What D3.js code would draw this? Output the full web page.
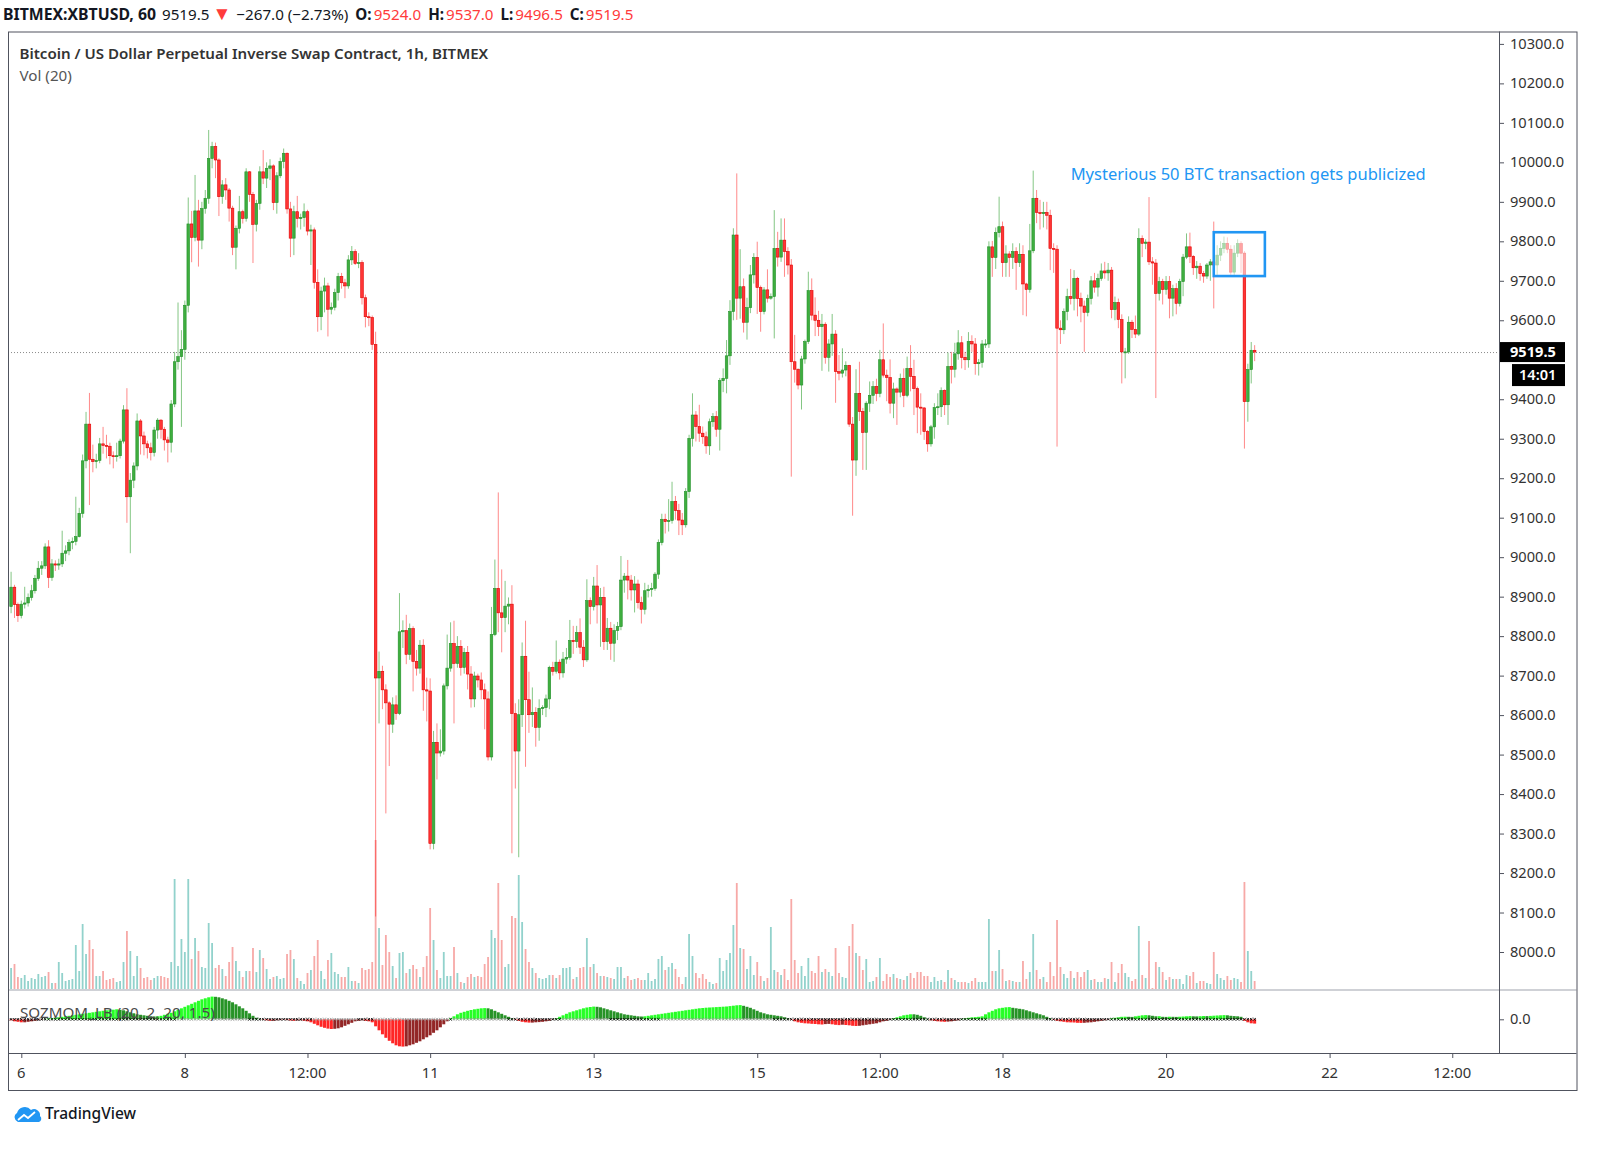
<!DOCTYPE html>
<html>
<head>
<meta charset="utf-8">
<title>XBTUSD 1h</title>
<script src="https://cdn.jsdelivr.net/npm/d3@7/dist/d3.min.js"></script>
<style>
  html, body { margin: 0; padding: 0; background: #ffffff; }
  svg { display: block; font-family: "Noto Sans", "Open Sans", sans-serif; }
</style>
</head>
<body>
<div id="chart"></div>
<script>
// hourly bars, BitMEX XBTUSD
const firstCandle = "2020-05-05T21:00:00Z";
const firstOpen = 8875;

const close = [
  8924, 8880, 8852, 8881, 8884, 8898, 8915, 8946, 8972, 8978,
  9026, 8949, 8983, 8980, 8983, 9010, 9016, 9037, 9040, 9052,
  9111, 9244, 9337, 9248, 9242, 9245, 9287, 9283, 9281, 9257,
  9255, 9257, 9294, 9373, 9153, 9195, 9231, 9345, 9307, 9287,
  9277, 9265, 9322, 9347, 9324, 9297, 9291, 9388, 9495, 9508,
  9526, 9638, 9844, 9810, 9877, 9803, 9883, 9909, 10010, 10040,
  10006, 9913, 9943, 9930, 9884, 9785, 9833, 9875, 9858, 9976,
  9919, 9843, 9896, 9976, 9960, 9985, 9991, 9898, 9966, 10002,
  10023, 9882, 9808, 9875, 9858, 9860, 9875, 9826, 9829, 9696,
  9609, 9674, 9687, 9628, 9633, 9670, 9711, 9695, 9687, 9753,
  9774, 9744, 9746, 9657, 9609, 9607, 9539, 8694, 8711, 8664,
  8631, 8577, 8626, 8604, 8811, 8814, 8754, 8819, 8736, 8719,
  8777, 8664, 8661, 8275, 8531, 8504, 8509, 8674, 8719, 8781,
  8731, 8774, 8721, 8759, 8704, 8641, 8699, 8689, 8664, 8641,
  8494, 8804, 8921, 8859, 8847, 8876, 8881, 8604, 8509, 8601,
  8749, 8639, 8601, 8607, 8569, 8617, 8619, 8641, 8721, 8711,
  8734, 8707, 8742, 8746, 8789, 8786, 8809, 8772, 8740, 8890,
  8875, 8927, 8879, 8898, 8786, 8820, 8782, 8814, 8824, 8942,
  8952, 8942, 8917, 8932, 8885, 8868, 8915, 8918, 8921, 8957,
  9037, 9096, 9090, 9093, 9141, 9118, 9094, 9082, 9166, 9301,
  9360, 9331, 9314, 9305, 9282, 9343, 9356, 9324, 9447, 9453,
  9510, 9622, 9816, 9656, 9685, 9595, 9632, 9715, 9759, 9683,
  9622, 9677, 9656, 9660, 9782, 9760, 9803, 9774, 9740, 9495,
  9476, 9436, 9502, 9546, 9675, 9613, 9600, 9584, 9590, 9506,
  9540, 9565, 9470, 9466, 9474, 9486, 9337, 9246, 9415, 9369,
  9316, 9390, 9410, 9432, 9415, 9500, 9461, 9455, 9390, 9426,
  9418, 9453, 9410, 9478, 9458, 9427, 9380, 9378, 9318, 9287,
  9330, 9379, 9381, 9422, 9386, 9483, 9476, 9515, 9543, 9506,
  9500, 9546, 9540, 9490, 9493, 9540, 9540, 9786, 9759, 9822,
  9837, 9746, 9768, 9759, 9774, 9746, 9767, 9692, 9678, 9776,
  9909, 9873, 9870, 9873, 9866, 9782, 9780, 9580, 9576, 9622,
  9660, 9655, 9706, 9655, 9636, 9620, 9655, 9700, 9684, 9706,
  9725, 9720, 9727, 9627, 9645, 9602, 9520, 9520, 9595, 9577,
  9565, 9807, 9795, 9798, 9748, 9745, 9668, 9698, 9678, 9698,
  9656, 9680, 9643, 9698, 9760, 9786, 9762, 9733, 9737, 9718,
  9712, 9740, 9748, 9740, 9765, 9782, 9795, 9780, 9722, 9770,
  9794, 9770, 9394, 9475, 9524, 9519.5
];

const high = [
  8963, 8930, 8885, 8890, 8925, 8908, 8930, 8955, 8990, 8990,
  9035, 9043, 8995, 8992, 8996, 9067, 9030, 9045, 9050, 9153,
  9125, 9260, 9368, 9416, 9285, 9262, 9302, 9330, 9310, 9290,
  9268, 9290, 9300, 9385, 9428, 9213, 9240, 9364, 9350, 9318,
  9295, 9290, 9330, 9352, 9350, 9330, 9305, 9398, 9520, 9645,
  9575, 9650, 9911, 9877, 9968, 9905, 9900, 9930, 10082, 10052,
  10050, 10010, 9955, 9960, 9935, 9890, 9840, 9915, 9880, 9985,
  9978, 9925, 9905, 9990, 10031, 10000, 10008, 9995, 9975, 10012,
  10035, 10025, 9900, 9890, 9915, 9870, 9896, 9880, 9842, 9835,
  9729, 9685, 9708, 9695, 9645, 9680, 9720, 9720, 9705, 9765,
  9788, 9780, 9770, 9752, 9665, 9620, 9612, 9571, 8761, 8725,
  8678, 8635, 8645, 8650, 8909, 8840, 8854, 8832, 8825, 8765,
  8790, 8792, 8695, 8693, 8560, 8579, 8564, 8680, 8804, 8835,
  8839, 8800, 8790, 8770, 8775, 8724, 8710, 8705, 8708, 8680,
  8660, 8874, 8994, 9164, 8969, 8940, 8898, 8929, 8630, 8640,
  8784, 8839, 8710, 8670, 8620, 8640, 8625, 8652, 8725, 8735,
  8789, 8741, 8760, 8770, 8841, 8826, 8826, 8845, 8790, 8944,
  8898, 8950, 8980, 8922, 8925, 8846, 8836, 8830, 8836, 9003,
  8960, 8993, 8955, 8952, 8943, 8900, 8935, 8930, 8935, 8962,
  9045, 9110, 9110, 9147, 9191, 9155, 9135, 9112, 9175, 9310,
  9415, 9370, 9386, 9331, 9318, 9351, 9365, 9370, 9454, 9478,
  9550, 9651, 9833, 9972, 9780, 9706, 9657, 9740, 9770, 9799,
  9688, 9684, 9729, 9668, 9879, 9824, 9858, 9858, 9785, 9755,
  9563, 9478, 9510, 9551, 9723, 9706, 9658, 9624, 9616, 9595,
  9552, 9616, 9575, 9512, 9529, 9496, 9487, 9355, 9476, 9495,
  9378, 9395, 9445, 9446, 9452, 9525, 9592, 9475, 9501, 9442,
  9430, 9465, 9478, 9508, 9537, 9500, 9432, 9415, 9380, 9322,
  9335, 9390, 9415, 9430, 9425, 9518, 9520, 9543, 9575, 9560,
  9520, 9570, 9562, 9555, 9502, 9550, 9552, 9800, 9801, 9835,
  9913, 9850, 9790, 9775, 9795, 9785, 9795, 9790, 9695, 9844,
  9979, 9930, 9905, 9900, 9900, 9880, 9795, 9790, 9600, 9630,
  9680, 9730, 9727, 9710, 9670, 9650, 9665, 9712, 9720, 9718,
  9744, 9748, 9745, 9735, 9660, 9655, 9615, 9530, 9610, 9601,
  9612, 9833, 9815, 9805, 9912, 9760, 9755, 9710, 9705, 9712,
  9712, 9690, 9694, 9705, 9768, 9820, 9822, 9765, 9750, 9745,
  9725, 9745, 9755, 9850, 9790, 9800, 9812, 9810, 9790, 9790,
  9805, 9800, 9775, 9490, 9545, 9537
];

const low = [
  8858, 8846, 8836, 8845, 8870, 8875, 8890, 8908, 8940, 8955,
  8970, 8922, 8940, 8965, 8968, 8975, 8990, 9005, 9020, 9030,
  9050, 9100, 9225, 9132, 9215, 9225, 9238, 9262, 9250, 9235,
  9225, 9242, 9250, 9288, 9087, 9010, 9175, 9220, 9260, 9258,
  9250, 9245, 9255, 9300, 9300, 9270, 9240, 9265, 9380, 9475,
  9330, 9500, 9620, 9747, 9800, 9736, 9780, 9870, 9895, 9985,
  9960, 9864, 9895, 9905, 9850, 9765, 9729, 9820, 9845, 9850,
  9900, 9745, 9825, 9880, 9945, 9935, 9955, 9879, 9870, 9960,
  9985, 9870, 9760, 9765, 9835, 9830, 9837, 9815, 9740, 9680,
  9571, 9575, 9620, 9559, 9615, 9625, 9650, 9680, 9656, 9680,
  9740, 9740, 9732, 9640, 9582, 9585, 9525, 8090, 8579, 8615,
  8351, 8471, 8555, 8588, 8600, 8770, 8729, 8740, 8660, 8700,
  8705, 8611, 8584, 8260, 8260, 8437, 8495, 8500, 8665, 8710,
  8579, 8720, 8700, 8705, 8665, 8619, 8620, 8670, 8640, 8564,
  8485, 8485, 8800, 8810, 8759, 8810, 8830, 8250, 8414, 8240,
  8570, 8469, 8555, 8570, 8520, 8535, 8600, 8595, 8615, 8700,
  8705, 8690, 8695, 8730, 8740, 8755, 8770, 8755, 8722, 8735,
  8830, 8865, 8832, 8773, 8765, 8765, 8740, 8735, 8790, 8815,
  8910, 8893, 8890, 8860, 8870, 8832, 8855, 8898, 8900, 8915,
  8945, 9030, 9060, 9065, 9085, 9095, 9056, 9056, 9075, 9150,
  9280, 9293, 9292, 9287, 9262, 9259, 9330, 9305, 9270, 9418,
  9415, 9487, 9600, 9601, 9604, 9569, 9551, 9618, 9693, 9616,
  9571, 9615, 9645, 9652, 9554, 9736, 9748, 9710, 9716, 9204,
  9442, 9425, 9374, 9490, 9540, 9600, 9560, 9560, 9472, 9490,
  9470, 9510, 9391, 9448, 9455, 9458, 9330, 9105, 9206, 9345,
  9221, 9221, 9368, 9388, 9395, 9405, 9455, 9395, 9364, 9352,
  9335, 9405, 9380, 9405, 9420, 9360, 9314, 9310, 9297, 9267,
  9280, 9300, 9360, 9355, 9360, 9335, 9440, 9455, 9500, 9478,
  9474, 9480, 9520, 9462, 9460, 9480, 9530, 9530, 9710, 9730,
  9810, 9710, 9710, 9710, 9730, 9677, 9735, 9613, 9610, 9670,
  9770, 9846, 9830, 9835, 9830, 9727, 9720, 9280, 9540, 9565,
  9600, 9640, 9625, 9610, 9595, 9520, 9610, 9640, 9670, 9660,
  9700, 9705, 9700, 9605, 9600, 9580, 9440, 9453, 9515, 9555,
  9555, 9560, 9760, 9780, 9740, 9690, 9403, 9650, 9640, 9665,
  9605, 9610, 9615, 9635, 9661, 9755, 9745, 9715, 9705, 9700,
  9695, 9705, 9700, 9630, 9715, 9750, 9770, 9770, 9715, 9715,
  9760, 9720, 9275, 9343, 9440, 9496.5
];

// volume per bar (relative units, same order)
const volume = [
  22, 26, 13, 12, 15, 9, 12, 11, 16, 13,
  14, 18, 7, 7, 28, 17, 9, 10, 11, 45,
  19, 66, 36, 50, 41, 14, 14, 19, 10, 11,
  12, 8, 9, 28, 59, 39, 14, 34, 22, 12,
  13, 10, 12, 14, 14, 13, 12, 28, 111, 24,
  51, 38, 111, 31, 52, 39, 23, 22, 67, 47,
  22, 25, 21, 14, 28, 43, 29, 19, 13, 19,
  19, 42, 18, 40, 32, 21, 11, 13, 14, 11,
  12, 36, 40, 31, 12, 9, 6, 17, 20, 34,
  50, 19, 11, 30, 37, 18, 16, 13, 13, 23,
  9, 9, 7, 22, 20, 21, 28, 150, 62, 25,
  55, 38, 24, 12, 37, 38, 17, 21, 25, 21,
  13, 23, 34, 82, 50, 20, 12, 38, 14, 14,
  43, 17, 8, 7, 13, 16, 13, 14, 13, 26,
  33, 60, 52, 107, 50, 23, 26, 74, 72, 115,
  68, 41, 28, 22, 17, 12, 11, 12, 15, 15,
  12, 15, 22, 22, 23, 11, 13, 22, 23, 52,
  23, 26, 17, 14, 14, 13, 12, 11, 23, 23,
  12, 14, 10, 11, 12, 10, 10, 17, 9, 11,
  31, 34, 20, 23, 27, 21, 13, 6, 13, 56,
  34, 17, 12, 16, 11, 8, 6, 7, 32, 19,
  30, 37, 65, 107, 42, 41, 21, 34, 15, 28,
  14, 9, 12, 63, 20, 18, 15, 21, 10, 91,
  30, 17, 24, 14, 32, 19, 17, 34, 18, 21,
  18, 14, 42, 17, 13, 12, 44, 66, 37, 34,
  20, 31, 8, 9, 13, 32, 9, 16, 13, 16,
  12, 11, 10, 14, 17, 12, 18, 18, 14, 14,
  8, 13, 9, 10, 8, 20, 12, 10, 8, 8,
  8, 7, 9, 12, 8, 8, 8, 71, 19, 19,
  40, 21, 9, 10, 9, 8, 8, 29, 11, 18,
  56, 20, 11, 13, 8, 28, 14, 70, 23, 16,
  12, 19, 12, 18, 13, 18, 20, 10, 11, 8,
  8, 12, 11, 28, 8, 17, 26, 17, 13, 9,
  11, 64, 15, 12, 49, 2, 28, 23, 18, 10,
  13, 11, 11, 11, 6, 15, 14, 18, 7, 9,
  9, 7, 6, 38, 16, 12, 10, 14, 10, 12,
  11, 8, 108, 39, 19, 9
];

// SQZMOM_LB histogram, same order
const momentum = [
  -1, -2, -2.5, -3, -3, -2.5, -2, -1.5, -1, -0.5, 0.5, 1,
  1.2, 1.6, 2, 2.5, 3, 3.5, 4, 4.5, 5, 5.5,
  6, 6.5, 7, 7.5, 8, 8.5, 9, 9.3, 9.6, 10,
  9.5, 9, 8, 7, 6, 5, 4.5, 4, 3.5, 3,
  2.8, 3, 3.5, 4.5, 5.5, 6.5, 8,
  9.5, 11, 12.5, 14, 15.5, 17, 18.5, 20, 21, 22, 22.7,
  22.5, 22, 21, 20, 18.5, 17, 15, 13, 11, 8.5, 6, 3.5,
  1.5, 0.5, -0.5, -1, -1.5, -1.5, -1,
  -0.8, -0.5, -0.8, -1.2, -1.5, -1.2, -1, -1.5, -2,
  -3, -4.5, -6, -7.5, -8.5, -9.3, -9.7,
  -9.5, -9, -8, -6.5, -5, -3.5, -2,
  -1.5, -1, -1.5, -2, -3,
  -7, -11, -15, -18.5, -21.5, -24, -26, -27, -27.3,
  -27, -26, -25, -23.5, -22, -20, -18, -16, -13.5, -11, -8, -5, -2,
  1, 3, 5, 6.5, 7.5, 8.5, 9.3, 10, 10.5, 11, 11.2, 11,
  10, 8.5, 7, 5.5, 4, 2.5, 1, -0.5,
  -1.5, -2.5, -3, -3.3, -3.3, -3, -2.8, -2.5, -2, -1.5, -0.5,
  1, 2.5, 4, 5.5, 7, 8, 9, 10, 11, 11.8, 12.3, 12.7,
  12.5, 12, 11, 10, 9, 8, 7, 6, 5, 4.5, 4, 3.5, 3, 2.8,
  3, 3.5, 4, 4.5, 5, 5.5, 6, 6.5, 7, 7.5, 8, 8.5, 9,
  9.5, 10, 10.5, 11, 11.3, 11.6, 11.8, 12, 12.2, 12.4, 12.6, 12.8, 13.2, 13.6, 14, 14.2,
  13.5, 12.5, 11.5, 10, 8.5, 7, 6, 5, 4.5,
  4, 3.5, 3, 2, 1, -0.5,
  -2, -3, -3.5, -4, -4.2, -4.5, -4.7, -5, -5.2, -4.8, -4.6, -5, -5.5, -5.8, -5.4,
  -5.7, -6, -6.5, -6.7, -6.5, -6, -5.5, -5, -4.5, -4, -3, -2, -1.5, -0.5,
  1, 2, 3, 4, 4.5, 5, 5, 4.5, 3.5, 2, 0.5,
  -1, -1.5, -2, -2.3, -2.5, -2.3, -2, -1.5, -1,
  0.5, 1, 1.5, 2, 2.2, 2.5,
  3, 5, 7, 8.5, 10, 11, 11.5, 12, 12.2,
  11.5, 11, 10.5, 10, 9, 8, 7, 6, 5, 4, 2.5,
  1, -0.5, -1.5, -2, -2.5, -3, -3.1, -3.2, -3.5, -3.6, -3.5, -3.2, -3, -2.5, -2, -1.5, -1, -0.5,
  1, 1.5, 2, 2.5, 2.6, 2.5, 2.4, 3, 3.5, 4, 4.2, 4, 3.5, 3, 3.1,
  2.5, 2.4, 2.6, 2.5, 2.4, 2.6, 2.8, 3, 3.2, 3, 2.9, 3.1, 3.3, 3.2, 3.4,
  3.6, 3.8, 4, 4.2, 4, 3.5, 3.2, 3, 2.5,
  -1.5, -3, -4, -4.3
];

// bar index ranges where the squeeze dot on the zero line is grey
const squeezeOff = [[49, 69], [89, 101], [107, 128], [130, 145], [162, 175], [191, 223], [287, 303]];

const priceTicks = [8000, 8100, 8200, 8300, 8400, 8500, 8600, 8700, 8800, 8900, 9000, 9100,
  9200, 9300, 9400, 9500, 9600, 9700, 9800, 9900, 10000, 10100, 10200, 10300];
const timeTicks = ["2020-05-06T00:00:00Z", "2020-05-08T00:00:00Z", "2020-05-09T12:00:00Z",
  "2020-05-11T00:00:00Z", "2020-05-13T00:00:00Z", "2020-05-15T00:00:00Z", "2020-05-16T12:00:00Z",
  "2020-05-18T00:00:00Z", "2020-05-20T00:00:00Z", "2020-05-22T00:00:00Z", "2020-05-23T12:00:00Z"];
const timeLabels = ["6", "8", "12:00", "11", "13", "15", "12:00", "18", "20", "22", "12:00"];

const symbolText = "BITMEX:XBTUSD, 60";
const changeText = "\u2212267.0 (\u22122.73%)";
const titleText = "Bitcoin / US Dollar Perpetual Inverse Swap Contract, 1h, BITMEX";
const volText = "Vol (20)";
const sqzText = "SQZMOM_LB (20, 2, 20, 1.5)";
const timerText = "14:01";
const noteText = "Mysterious 50 BTC transaction gets publicized";
const noteAt = ["2020-05-18T20:00:00Z", 9955];
const noteBox = ["2020-05-20T14:00:00Z", "2020-05-21T05:00:00Z", 9712, 9823];

// ---- layout ----
const W = 1600, H = 1158;
const frame = { left: 8, top: 31.5, right: 1576.5, bottom: 1090 };
const axisX = 1499;     // price scale border
const paneSplit = 990;  // main pane / indicator
const indBottom = 1053; // indicator / time scale

const upBody = "#3fae3f", upEdge = "#22912a", downBody = "#ff3535", downEdge = "#e10000";
const upWick = "rgba(50,160,50,0.6)", downWick = "rgba(255,40,40,0.55)";
const redText = "#ff3b3b", ink = "#131722", axisInk = "#333333", lineInk = "#50535e";

const svg = d3.select("#chart").append("svg")
  .attr("width", W).attr("height", H)
  .style("background", "#fff");

const start = new Date(firstCandle);
const bars = close.map((c, i) => ({
  i, t: d3.utcHour.offset(start, i),
  o: i ? close[i - 1] : firstOpen,
  c, h: high[i], l: low[i], v: volume[i], m: momentum[i]
}));
const last = bars[bars.length - 1];

const x = d3.scaleUtc()
  .domain([new Date("2020-05-06T00:00:00Z"), new Date("2020-05-22T00:00:00Z")])
  .range([21.3, 1329.6]);
const y = d3.scaleLinear().domain([8000, 10300]).range([952, 43.9]);
const yVol = d3.scaleLinear().domain([0, 100]).range([paneSplit, paneSplit - 100]);
const yMom = d3.scaleLinear().domain([-10, 10]).range([1029.3, 1009.3]);

const defs = svg.append("defs");
defs.append("clipPath").attr("id", "mainClip").append("rect")
  .attr("x", frame.left).attr("y", frame.top)
  .attr("width", axisX - frame.left).attr("height", paneSplit - frame.top - 1);
defs.append("clipPath").attr("id", "indClip").append("rect")
  .attr("x", frame.left).attr("y", paneSplit + 1)
  .attr("width", axisX - frame.left).attr("height", indBottom - paneSplit - 1);

// ---- main pane ----
const main = svg.append("g").attr("clip-path", "url(#mainClip)");

// volume
main.append("g").selectAll("rect").data(bars).join("rect")
  .attr("x", d => x(d.t) - 0.9)
  .attr("width", 1.8)
  .attr("y", d => yVol(d.v))
  .attr("height", d => yVol(0) - yVol(d.v))
  .attr("fill", d => d.c >= d.o ? "rgba(38,166,154,0.5)" : "rgba(239,83,80,0.5)");

// last price line
main.append("line")
  .attr("x1", frame.left).attr("x2", axisX)
  .attr("y1", y(last.c) + 0.5).attr("y2", y(last.c) + 0.5)
  .attr("stroke", "#8a8a8a").attr("stroke-dasharray", "1,2");

// candles
const candle = main.append("g").selectAll("g").data(bars).join("g");
candle.append("line")
  .attr("x1", d => x(d.t)).attr("x2", d => x(d.t))
  .attr("y1", d => y(d.h)).attr("y2", d => y(d.l))
  .attr("stroke", d => d.c >= d.o ? upWick : downWick)
  .attr("stroke-width", 1);
candle.append("rect")
  .attr("x", d => x(d.t) - 1.3)
  .attr("width", 2.6)
  .attr("y", d => y(Math.max(d.o, d.c)))
  .attr("height", d => Math.max(1, Math.abs(y(d.o) - y(d.c))))
  .attr("fill", d => d.c >= d.o ? upBody : downBody)
  .attr("stroke", d => d.c >= d.o ? upEdge : downEdge)
  .attr("stroke-width", 0.6);

// annotation box + text
const bx0 = x(new Date(noteBox[0])), bx1 = x(new Date(noteBox[1]));
main.append("rect")
  .attr("x", bx0).attr("y", y(noteBox[3]))
  .attr("width", bx1 - bx0).attr("height", y(noteBox[2]) - y(noteBox[3]))
  .attr("fill", "rgba(255,255,255,0.55)")
  .attr("stroke", "#2196f3").attr("stroke-width", 2.6);
main.append("text")
  .attr("x", x(new Date(noteAt[0]))).attr("y", y(noteAt[1]))
  .attr("fill", "#2196f3").style("font-size", "16.5px")
  .text(noteText);

// pane labels
svg.append("text").attr("x", 19.5).attr("y", 58.5)
  .attr("fill", "#333").style("font-size", "15.1px").style("font-weight", 600)
  .text(titleText);
svg.append("text").attr("x", 19.5).attr("y", 81)
  .attr("fill", "#555").style("font-size", "15.2px")
  .text(volText);

// ---- indicator pane ----
const ind = svg.append("g").attr("clip-path", "url(#indClip)");
ind.append("g").selectAll("rect").data(bars).join("rect")
  .attr("x", d => x(d.t) - 1.5)
  .attr("width", 3)
  .attr("y", d => Math.min(yMom(d.m), yMom(0)))
  .attr("height", d => Math.abs(yMom(d.m) - yMom(0)))
  .attr("fill", d => {
    const prev = d.i ? momentum[d.i - 1] : 0;
    if (d.m > 0) return d.m > prev ? "#00ff00" : "#008000";
    return d.m < prev ? "#ff0000" : "#800000";
  })
  .attr("opacity", 0.85);

const isOff = i => squeezeOff.some(r => i >= r[0] && i <= r[1]);
ind.append("g").selectAll("path").data(bars).join("path")
  .attr("transform", d => `translate(${x(d.t)},${yMom(0)})`)
  .attr("d", "M-1.2,-1.2L1.2,1.2M-1.2,1.2L1.2,-1.2")
  .attr("stroke", d => isOff(d.i) ? "#9a9a9a" : "#111")
  .attr("stroke-width", 1);

svg.append("text").attr("x", 20).attr("y", 1017.5)
  .attr("fill", "#4a4a4a").style("font-size", "15.2px")
  .text(sqzText);

// ---- frame and separators ----
svg.append("line").attr("x1", frame.left).attr("x2", frame.right)
  .attr("y1", paneSplit).attr("y2", paneSplit)
  .attr("stroke", "#cfd1d6").attr("stroke-width", 2);
svg.append("line").attr("x1", frame.left).attr("x2", frame.right)
  .attr("y1", indBottom + 0.5).attr("y2", indBottom + 0.5)
  .attr("stroke", lineInk);
svg.append("line").attr("x1", axisX + 0.5).attr("x2", axisX + 0.5)
  .attr("y1", frame.top).attr("y2", indBottom)
  .attr("stroke", lineInk);
svg.append("rect")
  .attr("x", frame.left + 0.5).attr("y", frame.top + 0.5)
  .attr("width", frame.right - frame.left).attr("height", frame.bottom - frame.top)
  .attr("fill", "none").attr("stroke", lineInk);

// ---- price scale ----
const py = y(last.c);
const yAxis = svg.append("g");
yAxis.selectAll("line").data(priceTicks).join("line")
  .attr("x1", axisX).attr("x2", axisX + 5)
  .attr("y1", d => y(d) + 0.5).attr("y2", d => y(d) + 0.5)
  .attr("stroke", lineInk);
// labels hidden where the last-price tag sits on top of them
yAxis.selectAll("text").data(priceTicks.filter(d => Math.abs(y(d) - py) > 22 && y(d) > py - 60 || Math.abs(y(d) - py) > 40)).join("text")
  .attr("x", axisX + 11).attr("y", d => y(d))
  .attr("dy", "0.35em").attr("fill", axisInk).style("font-size", "14.6px")
  .text(d => d3.format(".1f")(d));

// indicator zero label
svg.append("line").attr("x1", axisX).attr("x2", axisX + 5)
  .attr("y1", yMom(0) + 0.5).attr("y2", yMom(0) + 0.5).attr("stroke", lineInk);
svg.append("text").attr("x", axisX + 11).attr("y", yMom(0)).attr("dy", "0.35em")
  .attr("fill", axisInk).style("font-size", "14.6px").text(d3.format(".1f")(0));

// last price tag and bar timer
svg.append("rect").attr("x", axisX + 1).attr("y", py - 10)
  .attr("width", 65).attr("height", 20).attr("fill", "#000");
svg.append("text").attr("x", axisX + 11).attr("y", py).attr("dy", "0.36em")
  .attr("fill", "#fff").style("font-size", "14.6px").style("font-weight", 700)
  .text(d3.format(".1f")(last.c));
svg.append("rect").attr("x", axisX + 13).attr("y", py + 12)
  .attr("width", 53).attr("height", 22).attr("fill", "#000");
svg.append("text").attr("x", axisX + 20).attr("y", py + 23).attr("dy", "0.36em")
  .attr("fill", "#fff").style("font-size", "14.6px").style("font-weight", 600)
  .text(timerText);

// ---- time scale ----
const tAxis = svg.append("g");
tAxis.selectAll("line").data(timeTicks).join("line")
  .attr("x1", d => x(new Date(d)) + 0.5).attr("x2", d => x(new Date(d)) + 0.5)
  .attr("y1", indBottom).attr("y2", indBottom + 5)
  .attr("stroke", lineInk);
tAxis.selectAll("text").data(timeTicks).join("text")
  .attr("x", d => x(new Date(d))).attr("y", 1073).attr("dy", "0.35em")
  .attr("text-anchor", "middle").attr("fill", axisInk).style("font-size", "14.8px")
  .text((d, i) => timeLabels[i]);

// ---- header ----
const fmt = d3.format(".1f");
const header = svg.append("text").attr("x", 3).attr("y", 19.5)
  .attr("fill", ink).style("font-size", "15.2px");
header.append("tspan").style("font-weight", 700).style("font-size", "15.8px").text(symbolText);
header.append("tspan").attr("dx", 6).text(fmt(last.c));
header.append("tspan").attr("dx", 3).attr("fill", redText).style("font-size", "19px").text("\u25BC");
header.append("tspan").attr("dx", 5).text(changeText);
[["O:", last.o], ["H:", last.h], ["L:", last.l], ["C:", last.c]].forEach(([k, v]) => {
  header.append("tspan").attr("dx", 7).style("font-weight", 700).text(k);
  header.append("tspan").attr("dx", 2).attr("fill", redText).text(fmt(v));
});

// ---- footer logo ----
const logo = svg.append("g").attr("transform", "translate(13,1104)");
logo.append("path")
  .attr("d", "M5,18 A5,5 0 0 1 4,9 A8,8 0 0 1 18,6 A6,6 0 0 1 27,12 A3.5,3.5 0 0 1 26,18 Z")
  .attr("fill", "#2196f3");
logo.append("polyline")
  .attr("points", "5,16 11,11 15,14 22,8")
  .attr("fill", "none").attr("stroke", "#fff").attr("stroke-width", 1.8);
svg.append("text").attr("x", 45).attr("y", 1119)
  .attr("fill", ink).style("font-size", "15.5px").style("font-weight", 500)
  .text("TradingView");
</script>
</body>
</html>
